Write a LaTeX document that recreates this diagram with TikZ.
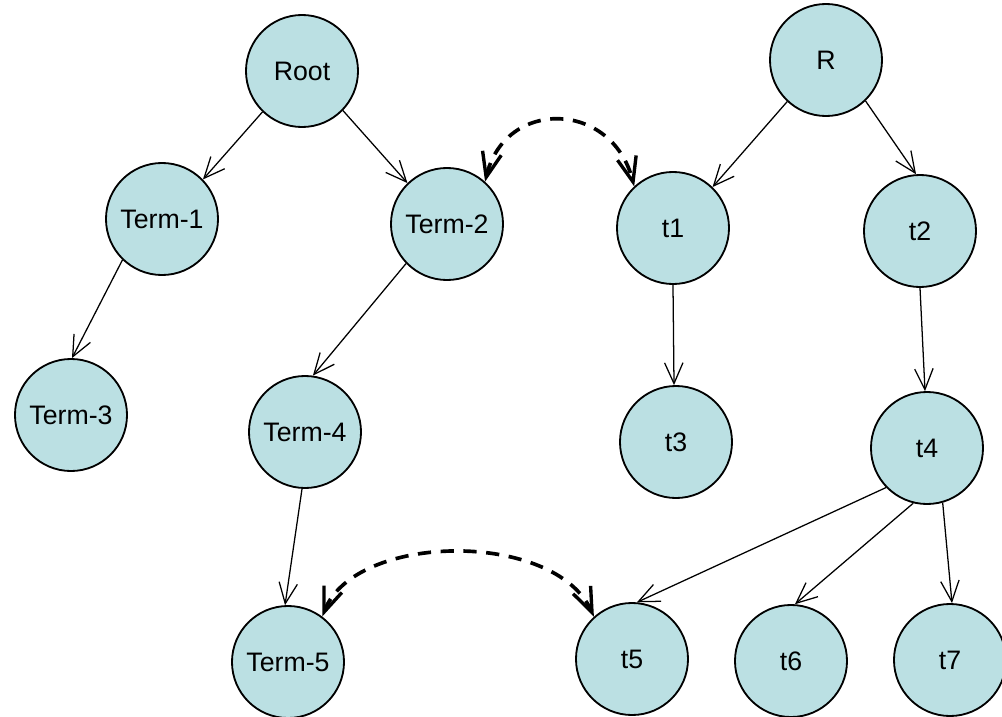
\documentclass[tikz,border=0pt]{standalone}
\usepackage{fontspec}
\setmainfont{Liberation Sans}
\usetikzlibrary{arrows.meta}
\definecolor{nodefill}{RGB}{187,224,227}
\begin{document}
\begin{tikzpicture}[x=0.025cm,y=-0.025cm,
  vertex/.style={circle,draw=black,line width=1.3pt,fill=nodefill,
    minimum size=2.8cm,inner sep=0pt,font=\fontsize{19}{21}\selectfont},
  link/.style={line width=0.9pt,-{Straight Barb[length=0.52cm,width=0.46cm,line width=0.9pt]}},
  pairing/.style={line width=2.6pt,dash pattern=on 0.33cm off 0.24cm,
    {Straight Barb[length=0.62cm,width=0.48cm,line width=2.4pt]}-{Straight Barb[length=0.62cm,width=0.48cm,line width=2.4pt]}}]
\useasboundingbox (0,0) rectangle (1002,717);

% left tree
\node[vertex] (root) at (302,71)  {Root};
\node[vertex] (T1)   at (162,219) {Term-1};
\node[vertex] (T2)   at (447,224) {Term-2};
\node[vertex] (T3)   at (71,415)  {Term-3};
\node[vertex] (T4)   at (305,432) {Term-4};
\node[vertex] (T5)   at (288,662) {Term-5};

% right tree
\node[vertex] (R)  at (826,60)  {R};
\node[vertex] (t1) at (673,228) {t1};
\node[vertex] (t2) at (920,231) {t2};
\node[vertex] (t3) at (676,442) {t3};
\node[vertex] (t4) at (927,448) {t4};
\node[vertex] (t5) at (632,659) {t5};
\node[vertex] (t6) at (791,661) {t6};
\node[vertex] (t7) at (950,660) {t7};

% tree edges
\draw[link] (root.-134) -- (T1.44);
\draw[link] (root.-44)  -- (T2.134);
\draw[link] (T1.-134)   -- (T3.89);
\draw[link] (T2.-136)   -- (T4.82);
\draw[link] (T4.-93)    -- (T5.93);

\draw[link] (R.-133)  -- (t1.46);
\draw[link] (R.-46)   -- (t2.94);
\draw[link] (t1.-90)  -- (t3.92);
\draw[link] (t2.-90)  -- (t4.92);
\draw[link] (t4.-136) -- (t5.85);
\draw[link] (t4.-104) -- (t6.86);
\draw[link] (t4.-74)  -- (t7.88);

% correspondences between the two trees
\draw[pairing] (T2.48) .. controls (505,98) and (612,100) .. (t1.133);
\draw[pairing] (T5.53) .. controls (355,532) and (555,530) .. (t5.132);
\end{tikzpicture}
\end{document}
